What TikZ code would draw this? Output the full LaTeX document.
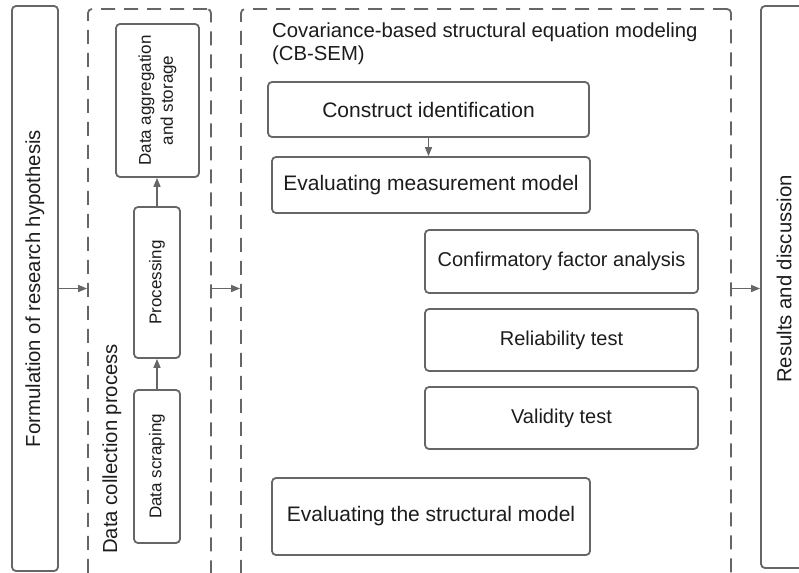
\documentclass[tikz,border=0pt]{standalone}
\usepackage{fontspec}
\setmainfont{Liberation Sans}
\usetikzlibrary{arrows.meta}
\definecolor{linegray}{RGB}{102,102,102}
\definecolor{textdark}{RGB}{28,28,28}

\begin{document}
\begin{tikzpicture}[
    x=1pt, y=-1pt,
    every node/.style={text=textdark, font=\fontsize{20.3}{23}\selectfont},
    stage/.style={draw=linegray, line width=1.8pt, rounded corners=4pt, inner sep=0pt},
    task/.style={stage, font=\fontsize{17}{22}\selectfont, align=center},
    big/.style={font=\fontsize{21}{24}\selectfont},
    frame/.style={draw=linegray, line width=1.8pt, rounded corners=4pt,
      dash pattern=on 14pt off 9pt, inner sep=0pt},
    link/.style={draw=linegray, line width=1.5pt, -{Triangle[length=9pt, width=7pt]}},
  ]
  \useasboundingbox (0,0) rectangle (799,572);

  % outer stages (rotated: .south is the right side)
  \node[stage, rotate=90, minimum width=565pt, minimum height=46pt] (hyp) at (35,288.5) {Formulation of research hypothesis};
  \node[stage, minimum width=50pt, minimum height=562pt] (result) at (786,287) {};
  \node[rotate=90] (resultlbl) at (784,279) {Results and discussion};

  % data collection
  \node[frame, minimum width=123pt, minimum height=590pt] (collect) at (149.5,304) {};
  \node[rotate=90, anchor=base west, inner sep=0pt] (collectlbl) at (117,554) {Data collection process};
  \node[task, rotate=90, minimum width=153pt, minimum height=46pt] (scrape) at (157,466.5) {Data scraping};
  \node[task, rotate=90, minimum width=151pt, minimum height=46pt] (proc) at (157,282.5) {Processing};
  \node[task, rotate=90, minimum width=153pt, minimum height=83pt] (store) at (157.5,100.5) {Data aggregation\\and storage};

  % CB-SEM
  \node[frame, minimum width=490pt, minimum height=590pt] (sem) at (486,304) {};
  \node[anchor=north west, align=left, inner sep=0pt, font=\fontsize{20.3}{23}\selectfont] (semlbl) at (272,23) {Covariance-based structural equation modeling\\(CB-SEM)};
  \node[stage, big, minimum width=321pt, minimum height=55pt] (ident) at (428.5,109.5) {Construct identification};
  \node[stage, big, minimum width=318pt, minimum height=56pt] (measure) at (431,185) {Evaluating measurement model};
  \node[stage, font=\fontsize{20}{23}\selectfont, minimum width=273pt, minimum height=63pt] (cfa) at (561.5,261.5) {Confirmatory factor analysis};
  \node[stage, font=\fontsize{20}{23}\selectfont, minimum width=273pt, minimum height=62pt] (rel) at (561.5,340) {Reliability test};
  \node[stage, font=\fontsize{20}{23}\selectfont, minimum width=273pt, minimum height=62pt] (valid) at (561.5,418) {Validity test};
  \node[stage, big, minimum width=318pt, minimum height=77pt] (struct) at (431,516.5) {Evaluating the structural model};

  % connectors
  \draw[link] (scrape.east) -- (proc.west);
  \draw[link] (proc.east) -- (proc.east |- store.west);
  \draw[link] (ident.south) -- (ident.south |- measure.north);
  \draw[link] (hyp.south) -- (collect.west |- hyp.south);
  \draw[link] (collect.east |- hyp.south) -- (sem.west |- hyp.south);
  \draw[link] (sem.east |- hyp.south) -- (result.west |- hyp.south);
\end{tikzpicture}
\end{document}
